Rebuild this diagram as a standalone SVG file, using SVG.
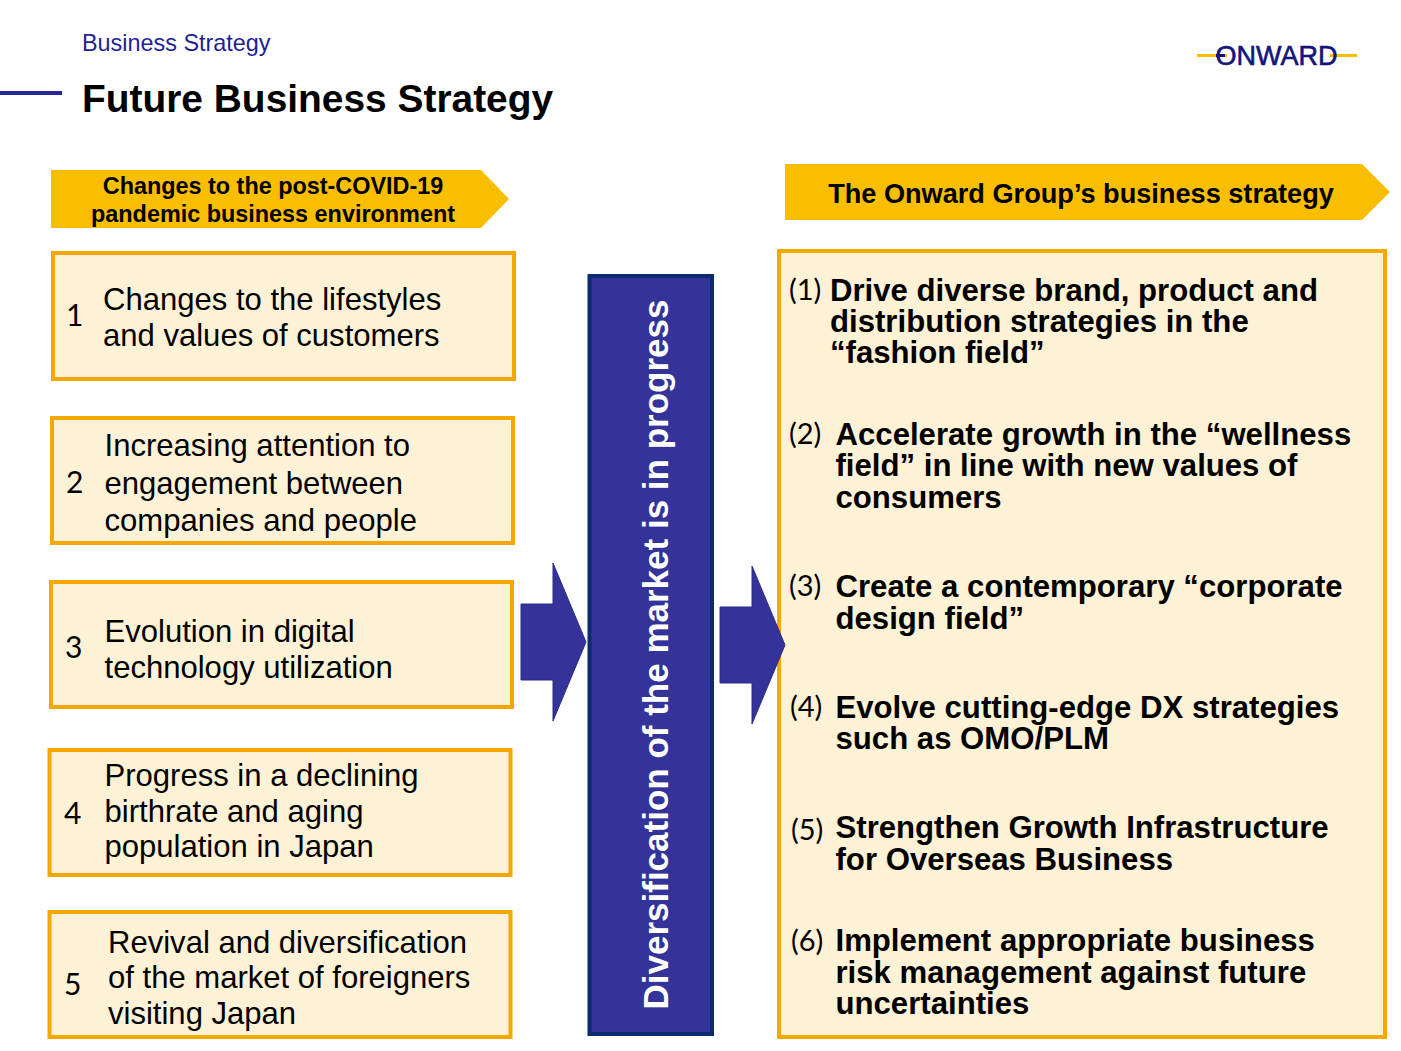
<svg xmlns="http://www.w3.org/2000/svg" width="1401" height="1051" viewBox="0 0 1401 1051">
<style>
text{font-family:"Liberation Sans",Arial,sans-serif;fill:#000}
.box{fill:#fdf1d6;stroke:#f5a800;stroke-width:4}
.hdr{fill:#fabe00}
.t{font-size:31.05px}
.n{font-size:30px;font-family:Lato,sans-serif}
.s{font-size:29px;font-family:Lato,sans-serif}
.b{font-size:31.15px;font-weight:bold}
.h{font-size:23.4px;font-weight:bold;text-anchor:middle}
.arrow{fill:#333399;stroke:#2b2b8c;stroke-width:1}
</style>
<rect width="1401" height="1051" fill="#fff"/>
<g id="header">
<text x="82" y="51" font-size="23.4" style="fill:#1f1f96">Business Strategy</text>
<rect x="0" y="91" width="62" height="4" fill="#26269a"/>
<text x="82" y="112" font-size="38.9" font-weight="bold">Future Business Strategy</text>
</g>
<g id="logo">
<rect x="1197" y="54" width="30" height="3" fill="#fabe00"/>
<rect x="1330" y="54" width="27" height="3" fill="#fabe00"/>
<text x="1276.500" y="65" font-size="27" text-anchor="middle" stroke="#14147a" stroke-width="0.6" style="fill:#14147a">ONWARD</text>
<rect x="1216" y="54" width="9" height="3" fill="#14147a"/>
</g>
<g id="left-header">
<polygon class="hdr" points="51,170 481,170 509,199 481,228 51,228"/>
<text class="h" x="273" y="194">Changes to the post-COVID-19</text>
<text class="h" x="273" y="222">pandemic business environment</text>
</g>
<g id="right-header">
<polygon class="hdr" points="785,164 1362,164 1390,192 1362,220 785,220"/>
<text x="1081" y="203" font-size="27.15" font-weight="bold" text-anchor="middle">The Onward Group’s business strategy</text>
</g>
<g id="item-1">
<rect class="box" x="53" y="253" width="461" height="126"/>
<text class="n" x="66" y="326">1</text>
<text class="t" x="103" y="310">Changes to the lifestyles</text>
<text class="t" x="103" y="346">and values of customers</text>
</g>
<g id="item-2">
<rect class="box" x="52" y="418" width="461" height="125"/>
<text class="n" x="66" y="493">2</text>
<text class="t" x="104.500" y="456">Increasing attention to</text>
<text class="t" x="104.500" y="494">engagement between</text>
<text class="t" x="104.500" y="531">companies and people</text>
</g>
<g id="item-3">
<rect class="box" x="51" y="582" width="461" height="125"/>
<text class="n" x="65" y="658">3</text>
<text class="t" x="104.500" y="642">Evolution in digital</text>
<text class="t" x="104.500" y="678">technology utilization</text>
</g>
<g id="item-4">
<rect class="box" x="49.500" y="750" width="461" height="125"/>
<text class="n" x="64" y="824">4</text>
<text class="t" x="104.500" y="786">Progress in a declining</text>
<text class="t" x="104.500" y="822">birthrate and aging</text>
<text class="t" x="104.500" y="857">population in Japan</text>
</g>
<g id="item-5">
<rect class="box" x="49.500" y="912" width="461" height="125"/>
<text class="n" x="64" y="995">5</text>
<text class="t" x="108" y="953">Revival and diversification</text>
<text class="t" x="108" y="988">of the market of foreigners</text>
<text class="t" x="108" y="1024">visiting Japan</text>
</g>
<g id="center">
<rect x="589.500" y="276" width="122.500" height="758" fill="#333399" stroke="#0d2a6e" stroke-width="4"/>
<text transform="translate(668,1009.500) rotate(-90)" font-size="35" font-weight="bold" style="fill:#fff">Diversification of the market is in progress</text>
</g>
<g id="right-panel">
<rect class="box" x="779" y="251" width="606" height="786"/>
<text class="s" x="789" y="300">(1)</text>
<text class="b" x="830" y="301">Drive diverse brand, product and</text>
<text class="b" x="830" y="332">distribution strategies in the</text>
<text class="b" x="830" y="363">“fashion field”</text>
<text class="s" x="789" y="444">(2)</text>
<text class="b" x="835.500" y="445">Accelerate growth in the “wellness</text>
<text class="b" x="835.500" y="476">field” in line with new values of</text>
<text class="b" x="835.500" y="508">consumers</text>
<text class="s" x="789" y="596">(3)</text>
<text class="b" x="835.500" y="597">Create a contemporary “corporate</text>
<text class="b" x="835.500" y="629">design field”</text>
<text class="s" x="790" y="717">(4)</text>
<text class="b" x="835.500" y="718">Evolve cutting-edge DX strategies</text>
<text class="b" x="835.500" y="749">such as OMO/PLM</text>
<text class="s" x="791" y="840">(5)</text>
<text class="b" x="835.500" y="838">Strengthen Growth Infrastructure</text>
<text class="b" x="835.500" y="870">for Overseas Business</text>
<text class="s" x="791" y="951">(6)</text>
<text class="b" x="835.500" y="951">Implement appropriate business</text>
<text class="b" x="835.500" y="983">risk management against future</text>
<text class="b" x="835.500" y="1014">uncertainties</text>
</g>
<g id="connectors">
<polygon class="arrow" points="521,604 553,604 553,563 586,642 553,721 553,680 521,680"/>
<polygon class="arrow" points="720,607 752,607 752,566 785,645 752,724 752,683 720,683"/>
</g>
</svg>
